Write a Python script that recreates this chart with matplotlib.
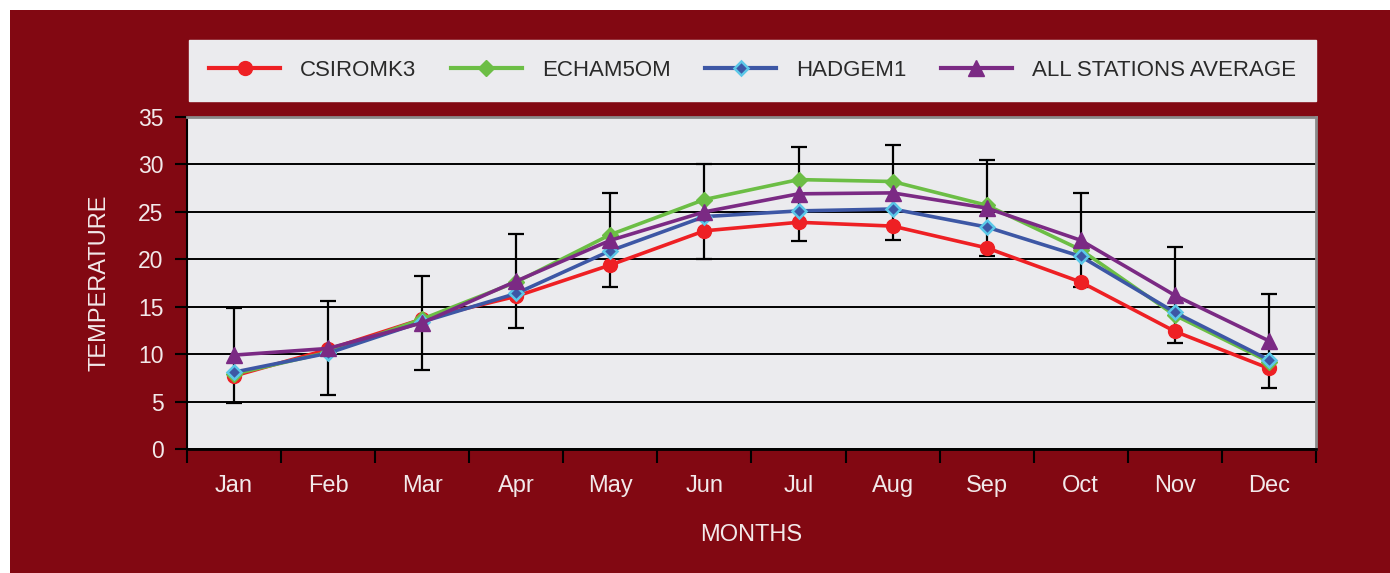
import matplotlib
matplotlib.use("Agg")
import matplotlib.pyplot as plt
from matplotlib.patches import Rectangle
import numpy as np

months = ['Jan', 'Feb', 'Mar', 'Apr', 'May', 'Jun', 'Jul', 'Aug', 'Sep', 'Oct', 'Nov', 'Dec']
csiromk3 = [7.7, 10.5, 13.7, 16.1, 19.4, 23.0, 23.9, 23.5, 21.2, 17.6, 12.4, 8.5]
echam5om = [7.9, 10.2, 13.7, 17.6, 22.6, 26.3, 28.4, 28.2, 25.7, 21.0, 14.1, 9.2]
hadgem1 = [8.1, 10.1, 13.4, 16.4, 20.9, 24.5, 25.1, 25.3, 23.4, 20.3, 14.4, 9.4]
all_avg = [9.9, 10.6, 13.3, 17.7, 22.0, 25.0, 26.9, 27.0, 25.4, 22.0, 16.2, 11.4]
err = [5.0, 4.95, 4.95, 4.95, 4.95, 5.0, 4.95, 5.0, 5.05, 4.95, 5.05, 4.95]

bg_red = '#820812'
panel = '#EBEBEE'
txt = '#F2E9EA'
fam = ['Liberation Sans', 'DejaVu Sans']

fig = plt.figure(figsize=(13.9, 5.73), dpi=100, facecolor='white')
# dark red panel behind everything (white strip top and left)
fig.patches.append(Rectangle((10 / 1390, 0), 1 - 10 / 1390, 1 - 10 / 573,
                             transform=fig.transFigure, facecolor=bg_red,
                             edgecolor='none', zorder=-5))

ax = fig.add_axes([187 / 1390, 1 - 449 / 573, (1316 - 187) / 1390, (449 - 117) / 573])
ax.set_zorder(1)
ax.set_facecolor(panel)
x = np.arange(len(months))

ax.errorbar(x, all_avg, yerr=err, fmt='none', ecolor='black', elinewidth=1.6,
            capsize=6, capthick=1.6, zorder=2)
ax.plot(x, csiromk3, color='#EE2024', lw=2.6, marker='o', ms=10, mec='#EE2024',
        label='CSIROMK3', zorder=3)
ax.plot(x, echam5om, color='#6CBE45', lw=2.6, marker='D', ms=8.5, mec='#6CBE45',
        label='ECHAM5OM', zorder=4)
ax.plot(x, hadgem1, color='#3D57A5', lw=2.6, marker='D', ms=7.5, mfc='#3D57A5',
        mec='#5BC8E8', mew=1.8, label='HADGEM1', zorder=5)
ax.plot(x, all_avg, color='#7B2A84', lw=2.6, marker='^', ms=12, mec='#7B2A84',
        label='ALL STATIONS AVERAGE', zorder=6)

ax.set_ylim(0, 35)
ax.set_xlim(-0.5, 11.5)
ax.set_yticks(np.arange(0, 36, 5))
ax.yaxis.grid(True, color='black', lw=1.4)
ax.set_axisbelow(True)

ax.set_xticks(np.arange(-0.5, 12, 1))
ax.set_xticklabels([])
ax.set_xticks(x, minor=True)
ax.set_xticklabels(months, minor=True)
ax.tick_params(axis='x', which='major', direction='out', length=10, width=1.5, color='black')
ax.tick_params(axis='x', which='minor', length=0, pad=19, labelsize=17, labelcolor=txt)
ax.tick_params(axis='y', direction='out', length=9, width=1.5, color='black', pad=8,
               labelsize=16.5, labelcolor=txt)
for lab in ax.get_xticklabels(minor=True) + ax.get_yticklabels():
    lab.set_family(fam)

ax.spines['left'].set_color('black')
ax.spines['left'].set_linewidth(1.5)
ax.spines['bottom'].set_color('black')
ax.spines['bottom'].set_linewidth(2)
ax.spines['top'].set_color('#8A8A8A')
ax.spines['top'].set_linewidth(2)
ax.spines['right'].set_color('#8A8A8A')
ax.spines['right'].set_linewidth(2)

ax.set_ylabel('TEMPERATURE', color=txt, fontsize=17, labelpad=20, family=fam)
ax.set_xlabel('MONTHS', color=txt, fontsize=17, labelpad=19, family=fam)

leg = fig.legend(loc='lower left', ncol=4, mode='expand',
                 bbox_to_anchor=(189 / 1390, 1 - 101 / 573, (1316 - 189) / 1390, 59 / 573),
                 frameon=True, fancybox=False, facecolor=panel, edgecolor=panel,
                 framealpha=1, handlelength=3.2, handletextpad=0.9,
                 borderpad=0.9, borderaxespad=0,
                 prop={'family': fam, 'size': 16})
for t in leg.get_texts():
    t.set_color('#2A2A2A')
for h in leg.legend_handles:
    h.set_linewidth(3)

fig.savefig('out.png', dpi=100, facecolor=fig.get_facecolor())
